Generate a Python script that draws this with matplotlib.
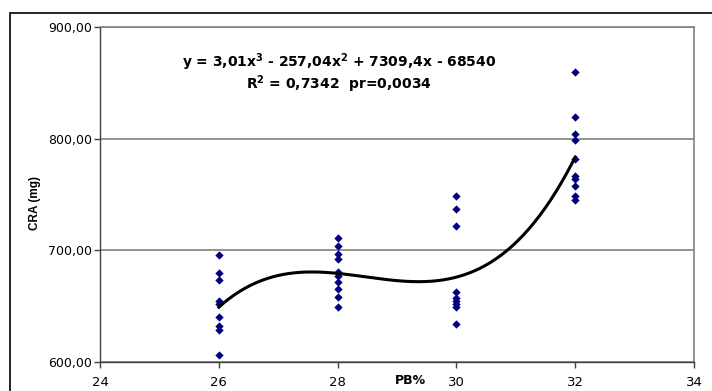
import numpy as np
import matplotlib.pyplot as plt
from matplotlib.patches import Rectangle
from matplotlib.ticker import FuncFormatter

plt.rcParams['font.family'] = ['DejaVu Sans']
plt.rcParams['mathtext.fontset'] = 'dejavusans'

# data
pb_levels = [26, 28, 30, 32]
cra_26 = [696, 680, 673, 655, 652, 640, 632, 629, 606]
cra_28 = [711, 704, 697, 692, 681, 677, 672, 665, 658, 649]
cra_30 = [749, 737, 722, 663, 657, 655, 652, 649, 634]
cra_32 = [860, 819, 804, 799, 782, 767, 764, 758, 749, 745]

# trend line coefficients as printed on the chart
coefs = [3.01, -257.04, 7309.4, -68540]

x_pts = np.concatenate([[p] * len(v) for p, v in zip(pb_levels, [cra_26, cra_28, cra_30, cra_32])])
y_pts = np.concatenate([cra_26, cra_28, cra_30, cra_32])

fig = plt.figure(figsize=(7.12, 3.91), dpi=100)
ax = fig.add_axes([100 / 712, 1 - 362 / 391, 594 / 712, 335 / 391])

# outer chart frame
fig.patches.append(Rectangle((10 / 712, -0.1), 1.0, 1 - 13 / 391 + 0.1, transform=fig.transFigure,
                             fill=False, edgecolor='black', linewidth=1.2))

ax.yaxis.grid(True, color='#808080', linewidth=1.2)
ax.set_axisbelow(True)

ax.scatter(x_pts, y_pts, marker='D', s=18, color='#000080', zorder=3, linewidths=0)

xs = np.linspace(26, 32, 200)
ax.plot(xs, np.polyval(coefs, xs), color='black', linewidth=2.2, zorder=4)

ax.set_xlim(24, 34)
ax.set_ylim(600, 900)
ax.set_xticks([24, 26, 28, 30, 32, 34])
ax.set_yticks([600, 700, 800, 900])
ax.yaxis.set_major_formatter(FuncFormatter(lambda v, p: f"{v:.2f}".replace('.', ',')))
ax.tick_params(direction='out', length=4, width=1, labelsize=9, pad=2, color='#404040')
ax.tick_params(axis='x', pad=6, labelsize=9.5)

for s in ['top', 'right']:
    ax.spines[s].set_color('#808080')
    ax.spines[s].set_linewidth(1.2)
for s in ['left', 'bottom']:
    ax.spines[s].set_color('#404040')
    ax.spines[s].set_linewidth(1.0)

ax.set_xlabel('PB%', fontsize=9, fontweight='bold', va='center')
ax.xaxis.set_label_coords((410 - 100) / 594, (362 - 381) / 335)
ax.set_ylabel('CRA (mg)', fontsize=8.5, fontweight='bold', va='center', family='Liberation Sans')
ax.yaxis.set_label_coords((35 - 100) / 594, (362 - 203) / 335)

ax.text((339 - 100) / 594, (362 - 62) / 335,
        r'y = 3,01x$^\mathbf{3}$ - 257,04x$^\mathbf{2}$ + 7309,4x - 68540',
        transform=ax.transAxes, ha='center', va='center', fontsize=10, fontweight='bold')
ax.text((339 - 100) / 594, (362 - 84) / 335,
        r'R$^\mathbf{2}$ = 0,7342  pr=0,0034',
        transform=ax.transAxes, ha='center', va='center', fontsize=10, fontweight='bold')

fig.savefig('out.png', dpi=100)
